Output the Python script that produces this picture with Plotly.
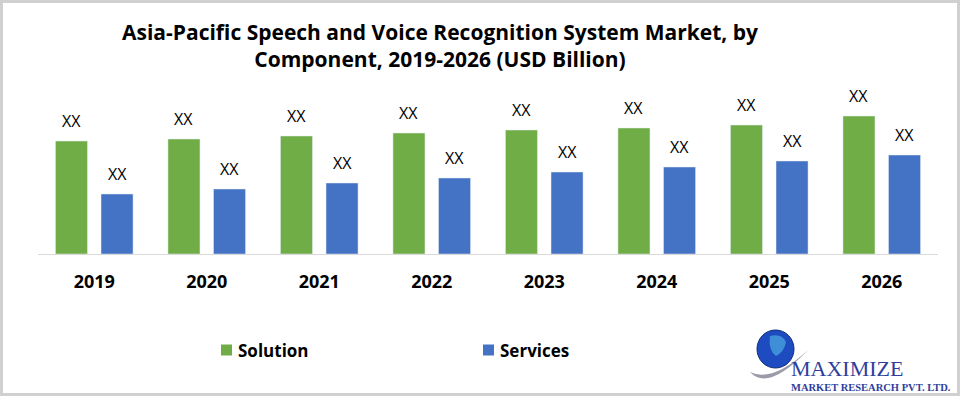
import plotly.graph_objects as go

years = ["2019", "2020", "2021", "2022", "2023", "2024", "2025", "2026"]
solution = [113, 115, 118, 121, 124, 126, 129, 138]
services = [60, 65, 71, 76, 82, 87, 93, 99]
labels = ["XX"] * len(years)
series_names = ["Solution", "Services"]
series_colors = ["#70AD47", "#4472C4"]

W, H = 960, 396
L, R, T, B = 38, 22, 94, 142
PW = W - L - R
PH = H - T - B
BARGAP, GROUPGAP = 0.19, 0.297

def px(x):
    return (x - L) / PW

def py(y):
    return (H - B - y) / PH

FONT = "Open Sans"

fig = go.Figure()
for name, vals, col in zip(series_names, [solution, services], series_colors):
    fig.add_trace(go.Bar(name=name, x=years, y=vals, marker_color=col))

# Value labels ("XX") above each bar, offset to its slot in the group
cat_px = PW / len(years)
slot_px = cat_px * (1 - BARGAP) / 2
for si, vals in enumerate([solution, services]):
    off = (si - 0.5) * slot_px
    for i, (v, lab) in enumerate(zip(vals, labels)):
        fig.add_annotation(x=i, y=v, xref="x", yref="y", text=lab, showarrow=False,
                           xshift=off, yshift=20, xanchor="center", yanchor="middle",
                           font=dict(size=16, family=FONT, color="#000000"))

fig.update_layout(
    width=W, height=H,
    margin=dict(l=L, r=R, t=T, b=B),
    paper_bgcolor="white", plot_bgcolor="white",
    barmode="group", bargap=BARGAP, bargroupgap=GROUPGAP,
    font=dict(family=FONT, color="#000000"),
    showlegend=False,
    xaxis=dict(type="category", range=[-0.5, len(years) - 0.5],
               showline=True, linecolor="#D9D9D9", linewidth=1, ticks="",
               tickfont=dict(size=18, family=FONT, color="#000000", weight="bold"),
               ticklabelstandoff=11, showgrid=False, fixedrange=True),
    yaxis=dict(range=[0, PH], visible=False, showgrid=False, fixedrange=True),
)

# Title
fig.add_annotation(text="Asia-Pacific Speech and Voice Recognition System Market, by<br>Component, 2019-2026 (USD Billion)",
                   x=px(440), y=py(46), xref="paper", yref="paper", showarrow=False,
                   xanchor="center", yanchor="middle", align="center",
                   font=dict(size=21, family=FONT, color="#000000", weight="bold"))

# Manual legend
leg_x = [221, 483]
for lx, name, col in zip(leg_x, series_names, series_colors):
    fig.add_shape(type="rect", xref="paper", yref="paper",
                  x0=px(lx), x1=px(lx + 11), y0=py(355.5), y1=py(344.5),
                  fillcolor=col, line=dict(width=0))
    fig.add_annotation(text=name, x=px(lx + 15), y=py(350), xref="paper", yref="paper",
                       showarrow=False, xanchor="left", yanchor="middle",
                       font=dict(size=17, family=FONT, color="#000000", weight="bold"))

# Logo
fig.add_shape(type="path", xref="paper", yref="paper",
              path=f"M {px(750)} {py(372)} Q {px(768)} {py(392)} {px(808)} {py(350)} "
                   f"Q {px(772)} {py(383)} {px(750)} {py(372)} Z",
              fillcolor="#9A9AA8", line=dict(width=0))
fig.add_shape(type="circle", xref="paper", yref="paper",
              x0=px(757), x1=px(794), y0=py(368), y1=py(330),
              fillcolor="#1E4CC0", line=dict(color="#0B2A7A", width=1))
fig.add_shape(type="path", xref="paper", yref="paper",
              path=f"M {px(770)} {py(336)} Q {px(782)} {py(333)} {px(786)} {py(342)} "
                   f"Q {px(784)} {py(352)} {px(776)} {py(356)} Q {px(768)} {py(350)} {px(770)} {py(336)} Z",
              fillcolor="#3F8FD8", line=dict(width=0))
fig.add_annotation(text="MAXIMIZE", x=px(789), y=py(368), xref="paper", yref="paper",
                   showarrow=False, xanchor="left", yanchor="middle",
                   font=dict(size=22, family="Liberation Serif", color="#2F3E9E"))
fig.add_annotation(text="MARKET RESEARCH PVT. LTD.", x=px(789), y=py(387), xref="paper", yref="paper",
                   showarrow=False, xanchor="left", yanchor="middle",
                   font=dict(size=10.5, family="Liberation Serif", color="#2F3E9E", weight="bold"))

# Frame
fig.add_shape(type="rect", xref="paper", yref="paper",
              x0=px(1.5), x1=px(W - 1.5), y0=py(1.5), y1=py(H - 1.5),
              line=dict(color="#D0D0D0", width=3), layer="above")

fig.write_html("out.html", config={"displayModeBar": False},
               post_script="document.body.style.margin='0px';document.body.style.overflow='hidden';")
